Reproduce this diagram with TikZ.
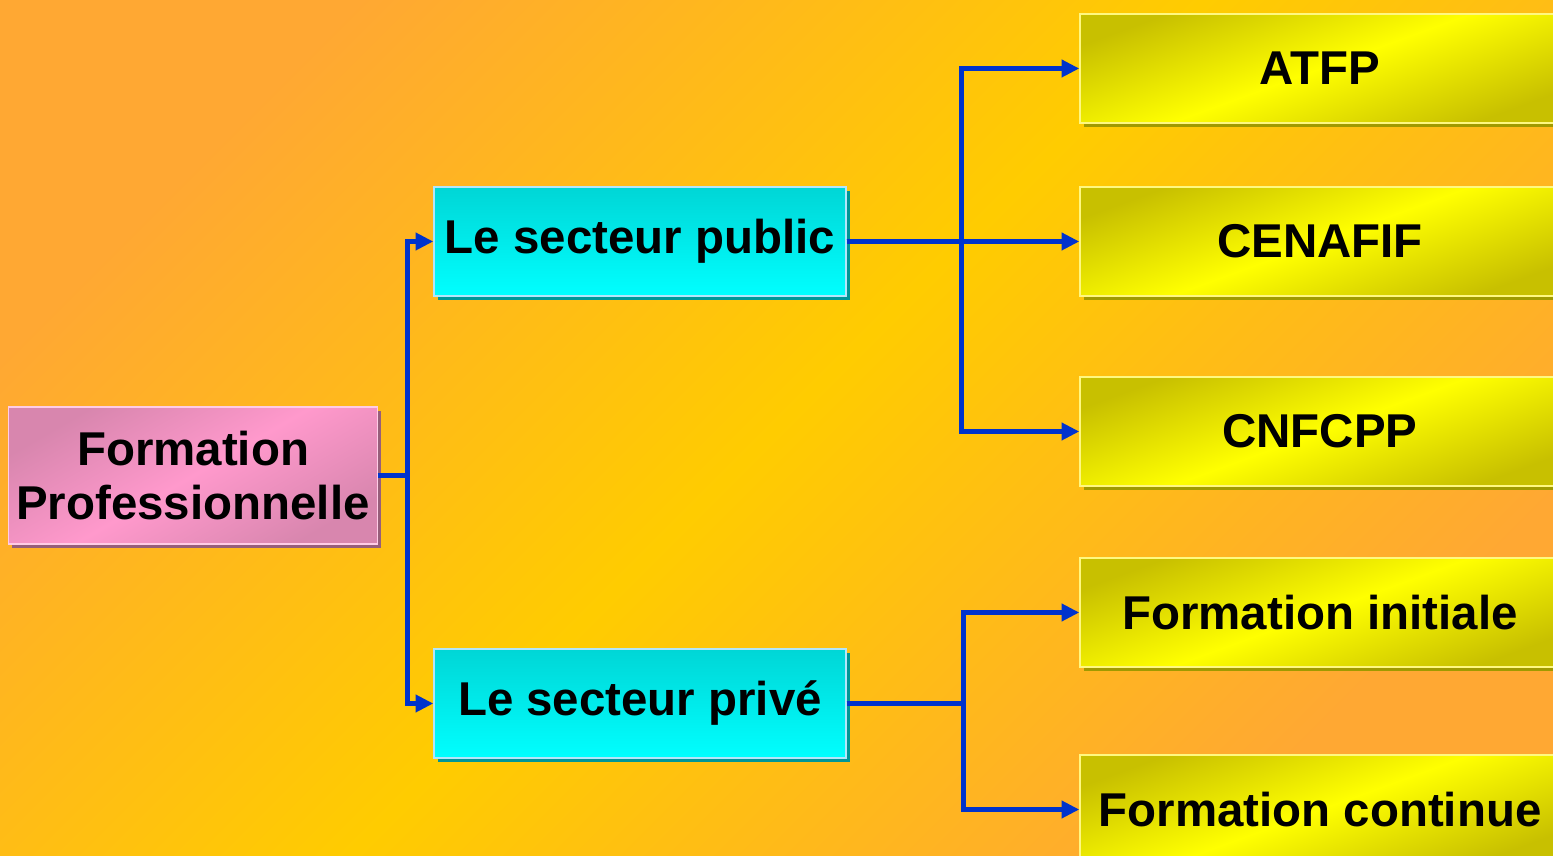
\documentclass[tikz,border=0pt]{standalone}
\usepackage{fontspec}
\setmainfont{Liberation Sans}
\usepackage{xcolor}
\usepackage{tikz}
\usetikzlibrary{shapes.geometric, arrows.meta, positioning, shadows}

\definecolor{bgorange}{HTML}{FFA833}
\definecolor{bgyellow}{HTML}{FFCC00}
\definecolor{linkblue}{HTML}{0033CC}
\definecolor{pinkdark}{HTML}{D886AE}
\definecolor{pinklight}{HTML}{FF99CC}
\definecolor{cyandark}{HTML}{00D6D6}
\definecolor{olivedark}{HTML}{C8C000}

\begin{document}
\begin{tikzpicture}[
        node distance=2.5cm,
        auto,
        font=\bfseries\fontsize{27}{31}\selectfont,
        base/.style={rectangle, line width=0.8pt, text centered, inner sep=1pt, minimum height=2.18cm},
        rootbox/.style={base, draw=pinklight!50!white, top color=pinkdark, bottom color=pinkdark, middle color=pinklight, shading angle=30, minimum width=7.32cm, minimum height=2.74cm, text width=7.3cm, general shadow={fill=pinkdark!70!black, shadow xshift=2pt, shadow yshift=-2pt}},
        sectorbox/.style={base, draw=cyan!30!white, top color=cyandark, bottom color=cyan, minimum width=8.24cm, general shadow={fill=cyandark!70!black, shadow xshift=2pt, shadow yshift=-2pt}},
        leafbox/.style={base, draw=yellow!50!white, top color=olivedark, bottom color=olivedark, middle color=yellow, shading angle=20, minimum width=9.6cm, general shadow={fill=olivedark!80!black, shadow xshift=2pt, shadow yshift=-2pt}},
        line/.style={draw=linkblue, line width=2.85pt, -{Triangle[length=10pt, width=9.5pt]}}
    ]
        % background
        \shade [top color=bgorange, bottom color=bgorange, middle color=bgyellow, shading angle=45] (0,0) rectangle (31.06,17.12);
        \useasboundingbox (0,0) rectangle (31.06,17.12);

        \node [rootbox] (formation) at (3.86,7.61) {Formation\\Professionnelle};
        \node [sectorbox] (public) at (12.8,12.29) {Le secteur public};
        \node [sectorbox, below of=public, node distance=9.24cm] (private) {Le secteur privé};
        \node [leafbox, right of=public, node distance=13.6cm] (cenafif) {CENAFIF};
        \node [leafbox, above of=cenafif, node distance=3.46cm] (atfp) {ATFP};
        \node [leafbox, below of=cenafif, node distance=3.8cm] (cnfcpp) {CNFCPP};
        \node [leafbox, below of=cnfcpp, node distance=3.62cm] (initiale) {Formation initiale};
        \node [leafbox, below of=initiale, node distance=3.94cm] (continue) {Formation continue};

        \path [line] (formation.east) -- ++(0.6,0) |- (public.west);
        \path [line] (formation.east) -- ++(0.6,0) |- (private.west);
        \path [line] (public.east) -- ++(2.3,0) |- (atfp.west);
        \path [line] (public.east) -- (cenafif.west);
        \path [line] (public.east) -- ++(2.3,0) |- (cnfcpp.west);
        \path [line] (private.east) -- ++(2.34,0) |- (initiale.west);
        \path [line] (private.east) -- ++(2.34,0) |- (continue.west);
    \end{tikzpicture}
\end{document}
